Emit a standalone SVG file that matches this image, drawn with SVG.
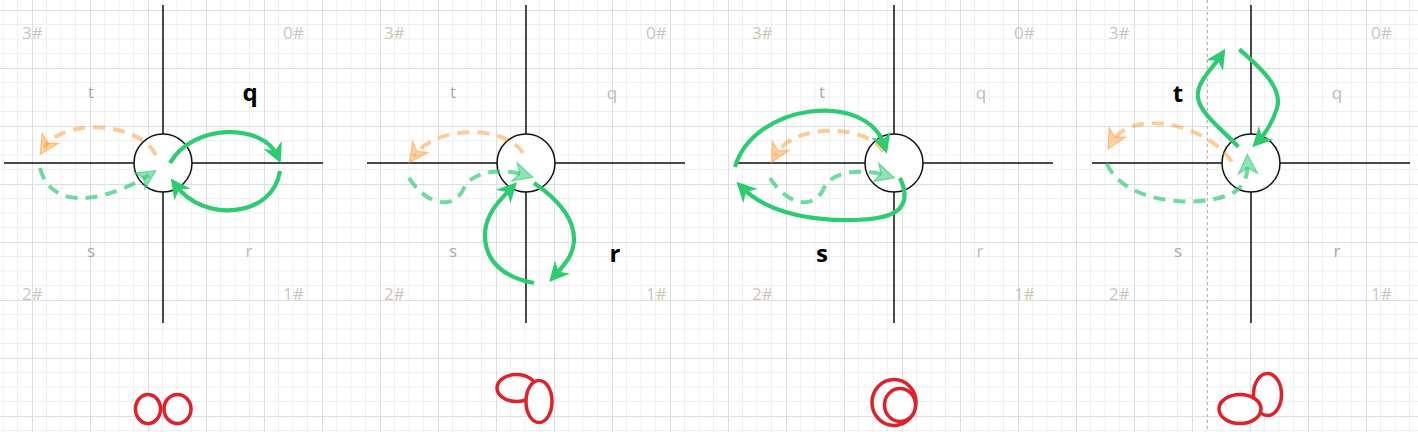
<svg xmlns="http://www.w3.org/2000/svg" width="1418" height="432" viewBox="0 0 1418 432">
<style>
.axis{stroke:#111;stroke-width:1.5;fill:none}
.hub{fill:#fff;stroke:#111;stroke-width:1.5}
.lbl{font-family:"Open Sans","Noto Sans",sans-serif;font-size:17px;fill:#cdc5bd}
.qd{font-family:"Open Sans","Noto Sans",sans-serif;font-size:17px;text-anchor:middle}
.ql{fill:#a9a9a9}
.qr{fill:#c4b9ae}
.bold{font-family:"Open Sans","Noto Sans",sans-serif;font-size:24px;font-weight:bold;fill:#000;text-anchor:middle}
.solid{fill:none;stroke:#2ecc71;stroke-width:4.2;marker-end:url(#ah)}
.dg{fill:none;stroke:#33cc77;stroke-opacity:0.7;stroke-width:4;stroke-dasharray:12 8;marker-end:url(#ahG)}
.do{fill:none;stroke:#ff9933;stroke-opacity:0.5;stroke-width:4;stroke-dasharray:12 8;marker-end:url(#ahO)}
.red{fill:#fff;stroke:#e0202b;stroke-width:3.5}
</style>
<defs>
<pattern id="grid" x="32" y="10" width="58" height="58" patternUnits="userSpaceOnUse">
<path d="M14.5,0V58M29,0V58M43.5,0V58M0,14.5H58M0,29H58M0,43.5H58" stroke="#efefef" stroke-width="1" fill="none"/>
<path d="M0.5,0V58M0,0.5H58" stroke="#dedede" stroke-width="1" fill="none"/>
</pattern>
<marker id="ah" viewBox="-14 -12 24 24" markerWidth="24" markerHeight="24" refX="0" refY="0" orient="auto" markerUnits="userSpaceOnUse">
<path d="M8,0 L-12,-10 L-6,0 L-12,10 Z" fill="#2ecc71"/>
</marker>
<marker id="ahG" viewBox="-14 -12 24 24" markerWidth="24" markerHeight="24" refX="0" refY="0" orient="auto" markerUnits="userSpaceOnUse">
<path d="M8,0 L-11,-9.5 L-5.5,0 L-11,9.5 Z" fill="#33cc77" fill-opacity="0.55" stroke="#33cc77" stroke-opacity="0.6" stroke-width="1.3"/>
</marker>
<marker id="ahO" viewBox="-14 -12 24 24" markerWidth="24" markerHeight="24" refX="0" refY="0" orient="auto" markerUnits="userSpaceOnUse">
<path d="M8,0 L-11,-9.5 L-5.5,0 L-11,9.5 Z" fill="#ff9933" fill-opacity="0.45" stroke="#ff9933" stroke-opacity="0.5" stroke-width="1.3"/>
</marker>
</defs>
<rect width="1418" height="432" fill="#fff"/>
<rect width="1418" height="432" fill="url(#grid)"/>
<line x1="1207.5" y1="0" x2="1207.5" y2="432" stroke="#b8b8b8" stroke-width="1" stroke-dasharray="3 3"/>

<g id="panel-q" transform="translate(163,163)">
<path class="axis" d="M0,-158V160M-159,0H160"/>
<circle class="hub" cx="0" cy="0" r="29"/>
<text class="lbl" x="-141" y="-124">3#</text><text class="lbl" x="120" y="-124">0#</text>
<text class="lbl" x="-141" y="137">2#</text><text class="lbl" x="120" y="137">1#</text>
<text class="qd ql" x="-72" y="-65">t</text><text class="bold" x="87" y="-62">q</text>
<text class="qd ql" x="-72" y="94">s</text><text class="qd qr" x="86" y="94">r</text>
</g>
<g id="panel-r" transform="translate(526,163)">
<path class="axis" d="M0,-158V160M-159,0H159"/>
<circle class="hub" cx="0" cy="0" r="29"/>
<text class="lbl" x="-142" y="-124">3#</text><text class="lbl" x="120" y="-124">0#</text>
<text class="lbl" x="-142" y="137">2#</text><text class="lbl" x="120" y="137">1#</text>
<text class="qd ql" x="-73" y="-65">t</text><text class="qd qr" x="86" y="-64">q</text>
<text class="qd ql" x="-73" y="94">s</text><text class="bold" x="89" y="99">r</text>
</g>
<g id="panel-s" transform="translate(894,163)">
<path class="axis" d="M0,-158V160M-159,0H159"/>
<circle class="hub" cx="0" cy="0" r="29"/>
<text class="lbl" x="-142" y="-124">3#</text><text class="lbl" x="120" y="-124">0#</text>
<text class="lbl" x="-142" y="137">2#</text><text class="lbl" x="120" y="137">1#</text>
<text class="qd ql" x="-72" y="-65">t</text><text class="qd qr" x="87" y="-64">q</text>
<text class="bold" x="-72" y="99">s</text><text class="qd qr" x="86" y="94">r</text>
</g>
<g id="panel-t" transform="translate(1251,163)">
<path class="axis" d="M0,-158V160M-159,0H159"/>
<circle class="hub" cx="0" cy="0" r="29"/>
<text class="lbl" x="-142" y="-124">3#</text><text class="lbl" x="120" y="-124">0#</text>
<text class="lbl" x="-142" y="137">2#</text><text class="lbl" x="120" y="137">1#</text>
<text class="bold" x="-73" y="-61">t</text><text class="qd qr" x="86" y="-64">q</text>
<text class="qd ql" x="-73" y="94">s</text><text class="qd ql" x="86" y="94">r</text>
</g>

<g id="connectors">
<g transform="translate(163,163)">
<path class="do" d="M-7,-8 C-25,-42 -100,-45 -118.5,-15.5"/>
<path class="dg" d="M-123,5 C-110,55 -45,32 -14,12"/>
<path class="solid" d="M7,0 C30,-40 100,-40 114.5,-7"/>
<path class="solid" d="M117,8 C110,55 40,60 12.5,22"/>
</g>
<g transform="translate(526,163)">
<path class="do" d="M-3,-10 C-20,-38 -89.8,-38.7 -112,-7"/>
<path class="dg" d="M-117,15 C-100,42 -72,48 -62,25 C-54,8 -25,5 -1,12"/>
<path class="solid" d="M8,20 C30,35 49,55 48,78 C47,92 40,100 28.5,113"/>
<path class="solid" d="M8,120 C-20,115 -42,100 -41,70 C-40,50 -26,37 -14.5,25"/>
</g>
<g transform="translate(894,163)">
<path class="do" d="M-10.7,-11.3 C-25,-38 -100,-42 -118.5,-7.5"/>
<path class="dg" d="M-124,15 C-107,42 -80,48 -70,25 C-62,8 -33,5 -7.5,12.5"/>
<path class="solid" d="M-159,4 C-140,-60 -27,-73 -9.5,-17"/>
<path class="solid" d="M6,15 C14,32 12,46 -5,52 C-30,61 -115,62 -152,24.5"/>
</g>
<g transform="translate(1251,163)">
<path class="do" d="M-19.3,-1.3 C-45,-40 -119.7,-54.7 -139,-21"/>
<path class="dg" d="M-144.3,0.3 C-125,45 -40,45 -15,28 C-5,20 -3,10 -3.4,-0.5"/>
<path class="solid" d="M-12.7,-16.3 C-30,-35 -60,-55 -52,-75 C-48,-88 -38,-95 -30,-107.5"/>
<path class="solid" d="M-11.7,-113.7 C10,-95 32,-75 26,-55 C22,-42 15,-30 6.8,-21.5"/>
</g>
</g>

<g id="shape-q">
<ellipse class="red" cx="148" cy="409" rx="12.5" ry="14.5"/>
<ellipse class="red" cx="177.5" cy="409" rx="13.5" ry="14.5"/>
</g>
<g id="shape-r">
<ellipse class="red" cx="516.5" cy="388" rx="19.5" ry="13.5"/>
<ellipse class="red" cx="539" cy="401.5" rx="13" ry="21"/>
</g>
<g id="shape-s">
<ellipse class="red" cx="894" cy="402.5" rx="22" ry="23"/>
<ellipse class="red" cx="900" cy="405" rx="15.5" ry="16.5"/>
</g>
<g id="shape-t">
<ellipse class="red" cx="1267.5" cy="394.5" rx="14" ry="21"/>
<ellipse class="red" cx="1240" cy="409" rx="21" ry="14.5"/>
</g>
</svg>
